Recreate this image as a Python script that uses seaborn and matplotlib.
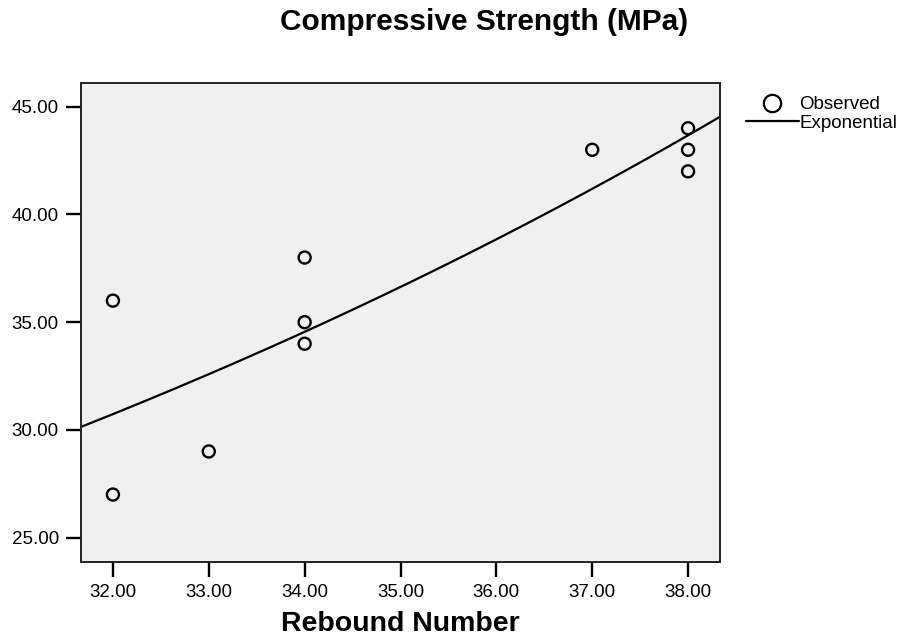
import numpy as np
import pandas as pd
import matplotlib
matplotlib.use("Agg")
import matplotlib.pyplot as plt
from matplotlib.lines import Line2D
import seaborn as sns

# Observed data
rebound = [32, 32, 33, 34, 34, 34, 37, 38, 38, 38]
strength = [36, 27, 29, 38, 35, 34, 43, 44, 43, 42]
x_ticks = [32, 33, 34, 35, 36, 37, 38]
y_ticks = [25, 30, 35, 40, 45]

sns.set_style("white")
plt.rcParams['font.family'] = ['Liberation Sans', 'DejaVu Sans']
plt.rcParams['text.color'] = 'black'
plt.rcParams['axes.labelcolor'] = 'black'
plt.rcParams['xtick.color'] = 'black'
plt.rcParams['ytick.color'] = 'black'

df = pd.DataFrame({"Rebound Number": rebound, "Compressive Strength": strength})

# Exponential curve fit (log-linear least squares, as SPSS curve estimation)
b, ln_a = np.polyfit(df["Rebound Number"], np.log(df["Compressive Strength"]), 1)
xlim = (31.667, 38.333)
xs = np.linspace(xlim[0], xlim[1], 200)
fit = pd.DataFrame({"x": xs, "y": np.exp(ln_a + b * xs)})

fig = plt.figure(figsize=(9.15, 6.41), dpi=100)
ax = fig.add_axes([81 / 915, 1 - 562 / 641, (720 - 81) / 915, (562 - 83) / 641])
ax.set_facecolor("#F0F0F0")

sns.lineplot(data=fit, x="x", y="y", ax=ax, color="black", linewidth=1.6, legend=False)
sns.scatterplot(data=df, x="Rebound Number", y="Compressive Strength", ax=ax,
                marker="o", s=75, facecolor="none", edgecolor="black", linewidth=1.7,
                legend=False, zorder=3)

ax.set_xlim(*xlim)
ax.set_ylim(23.87, 46.1)
ax.set_xticks(x_ticks)
ax.set_yticks(y_ticks)
ax.set_xticklabels([f"{v:.2f}" for v in x_ticks], fontsize=13.5)
ax.set_yticklabels([f"{v:.2f}" for v in y_ticks], fontsize=13.5)
ax.tick_params(axis="both", direction="out", length=11, width=1.7, color="black",
               bottom=True, left=True, pad=5)
for s in ax.spines.values():
    s.set_color("#222222")
    s.set_linewidth(1.4)

ax.set_xlabel("Rebound Number", fontsize=20.5, fontweight="bold", labelpad=7)
ax.set_ylabel("")

fig.text(484 / 915, 1 - 30 / 641, "Compressive Strength (MPa)", fontsize=21.5,
         fontweight="bold", ha="center", va="baseline")

handles = [
    Line2D([], [], marker="o", linestyle="none", markersize=12.5, markerfacecolor="none",
           markeredgecolor="black", markeredgewidth=1.6),
    Line2D([], [], color="black", linewidth=1.6),
]
leg = fig.legend(handles, ["Observed", "Exponential"], loc="upper left",
                 bbox_to_anchor=(746 / 915, 1 - 96 / 641), frameon=False,
                 fontsize=13.5, handlelength=2.8, handletextpad=0.05,
                 labelspacing=0.08, borderpad=0, borderaxespad=0)

fig.savefig("out.png", dpi=100)
